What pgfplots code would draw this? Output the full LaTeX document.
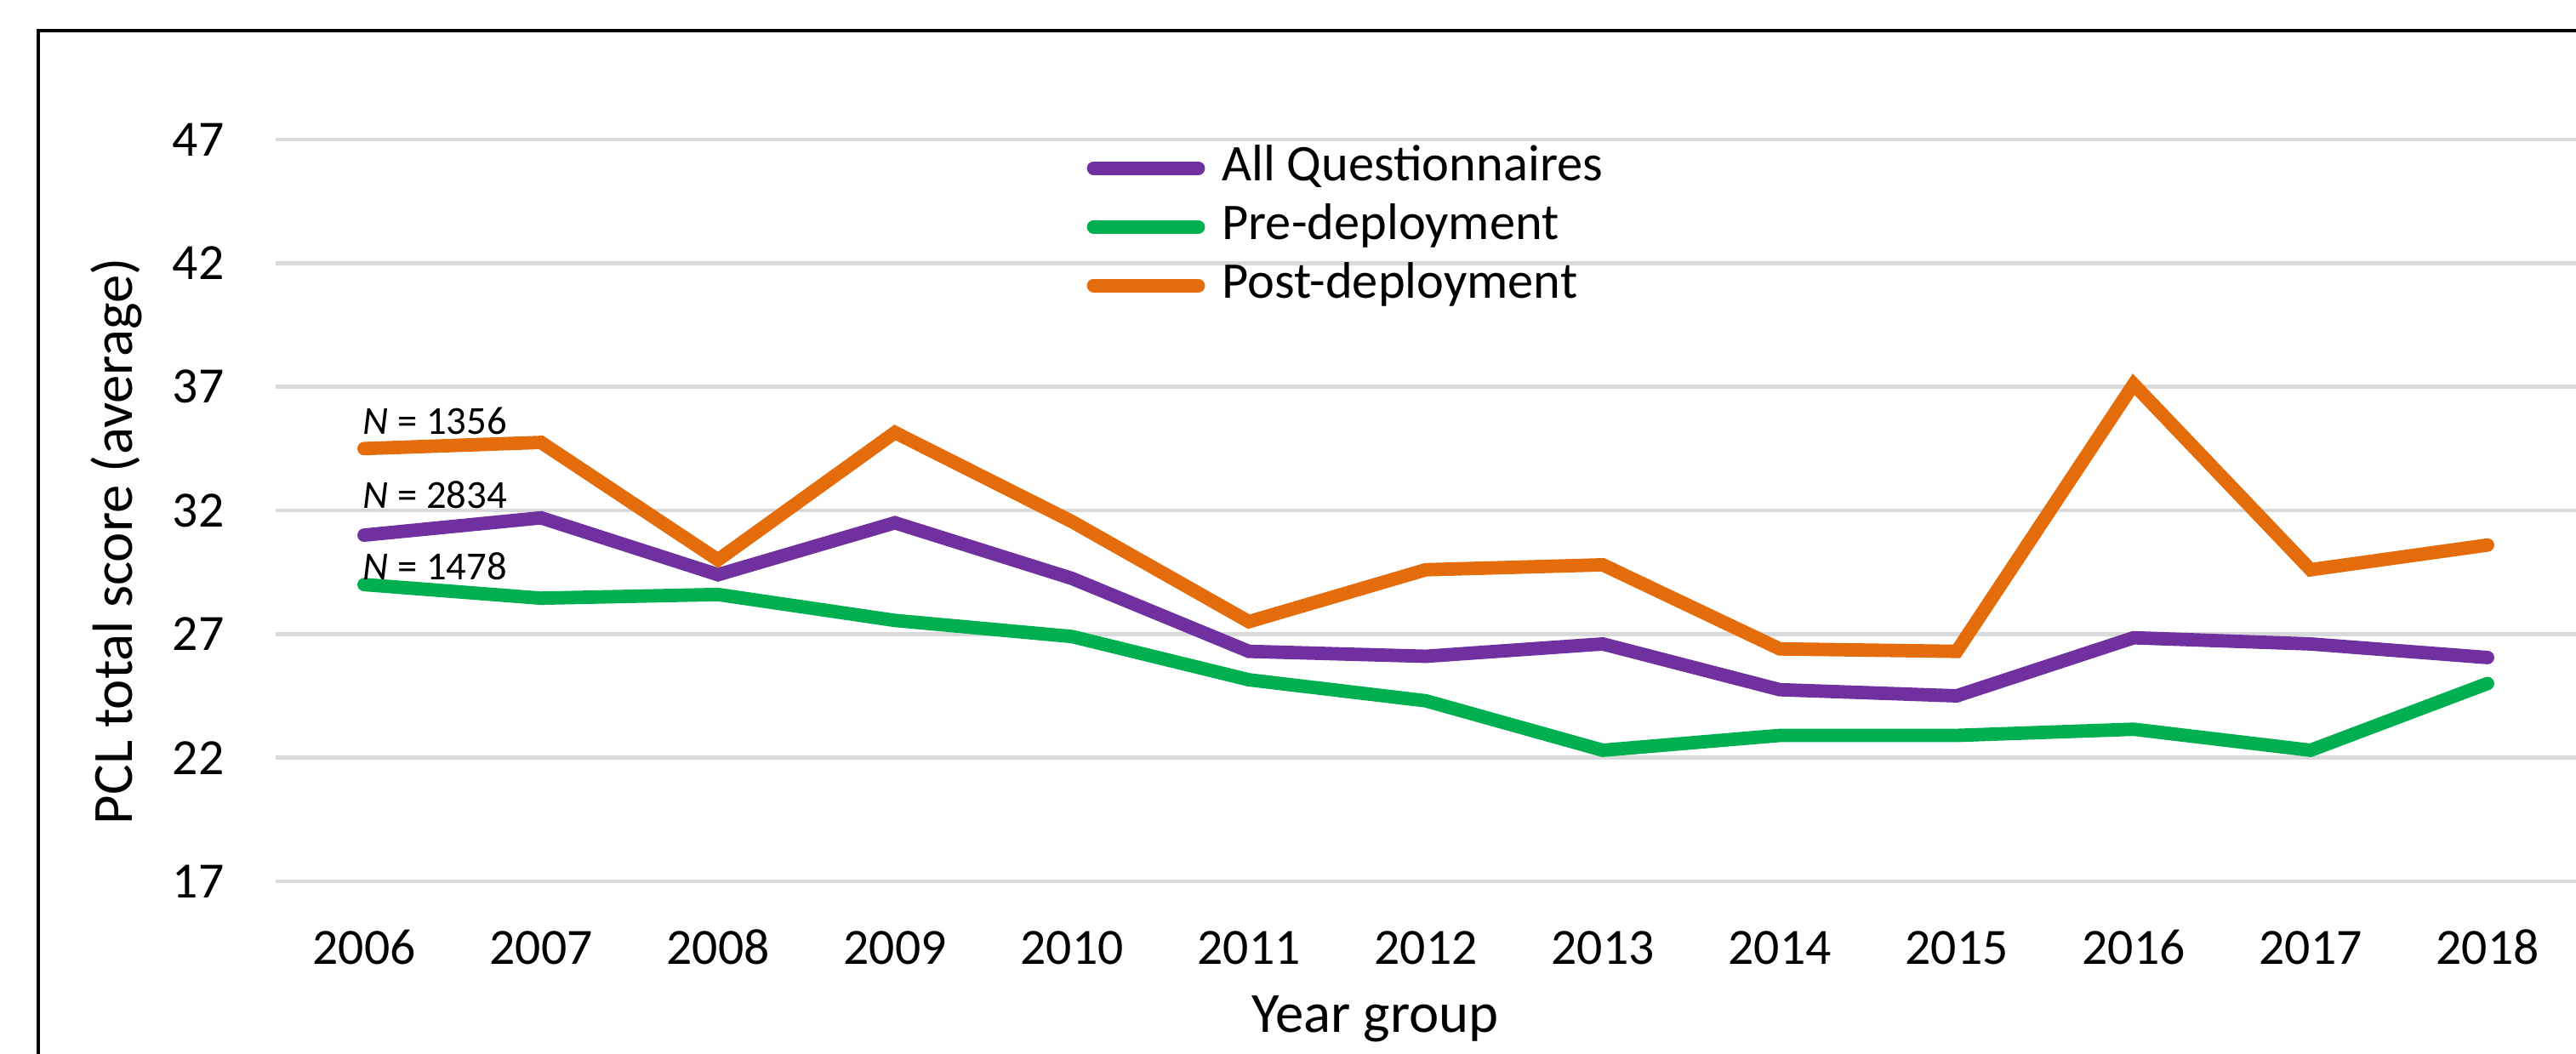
\documentclass[border=0pt]{standalone}
\usepackage{pgfplots}
\pgfplotsset{compat=1.18}
\usepackage{fontspec}
\setmainfont{Carlito}
\definecolor{cAll}{HTML}{7030A0}
\definecolor{cPre}{HTML}{00B050}
\definecolor{cPost}{HTML}{E46C0A}
\definecolor{gridgray}{HTML}{D9D9D9}
\begin{document}
\begin{tikzpicture}
\useasboundingbox (-3.24,-2.02) rectangle (27.04,10.36);
\begin{axis}[
  at={(0,0)}, anchor=south west,
  scale only axis, width=27.04cm, height=8.72cm,
  xmin=-0.5, xmax=12.5, ymin=17, ymax=47,
  xtick={0,...,12},
  xticklabels={2006,2007,2008,2009,2010,2011,2012,2013,2014,2015,2016,2017,2018},
  ytick={17,22,27,32,37,42,47},
  ymajorgrids, grid style={color=gridgray, line width=1.4pt},
  axis line style={draw=none}, tick style={draw=none},
  /pgf/number format/assume math mode=true,
  xticklabel style={font=\fontsize{17}{20}\selectfont, anchor=base, inner sep=0pt, yshift=-0.97cm},
  yticklabel style={font=\fontsize{17}{20}\selectfont, anchor=east, inner sep=0pt, xshift=-0.6cm},
  xlabel={Year group},
  xlabel style={font=\fontsize{19}{22}\selectfont, at={(axis description cs:0.478,-0.203)}, anchor=base, inner sep=0pt},
  ylabel={PCL total score (average)},
  ylabel style={font=\fontsize{19}{22}\selectfont, at={(axis description cs:-0.0692,0.4587)}, anchor=center, inner sep=0pt},
  clip=false,
  legend cell align=left,
  legend image code/.code={\draw[#1, line width=4.5pt, line cap=round] (0cm,0cm) -- (1.23cm,0cm);},
  legend style={at={(axis description cs:0.3524,0.9966)}, anchor=north west, draw=none, fill=none,
    inner sep=0pt, row sep=0.09cm, font=\fontsize{17.2}{20}\selectfont,
    nodes={inner sep=0pt, text height=0.45cm, text depth=0.15cm},
    /tikz/every odd column/.append style={column sep=0.2cm}},
  every axis plot/.append style={line width=4.5pt, line cap=round, line join=miter},
]
\addplot[color=cAll] coordinates {(0,31.0) (1,31.7) (2,29.4) (3,31.5) (4,29.25) (5,26.3) (6,26.1) (7,26.6) (8,24.75) (9,24.5) (10,26.85) (11,26.6) (12,26.05)};
\addlegendentry{All Questionnaires}
\addplot[color=cPre] coordinates {(0,29.0) (1,28.45) (2,28.6) (3,27.55) (4,26.9) (5,25.15) (6,24.3) (7,22.3) (8,22.9) (9,22.9) (10,23.15) (11,22.3) (12,25.0)};
\addlegendentry{Pre-deployment}
\addplot[color=cPost] coordinates {(0,34.5) (1,34.75) (2,30.0) (3,35.15) (4,31.55) (5,27.5) (6,29.6) (7,29.8) (8,26.4) (9,26.3) (10,37.1) (11,29.6) (12,30.6)};
\addlegendentry{Post-deployment}
\node[anchor=base west, inner sep=0pt, font=\fontsize{13.3}{16}\selectfont] at (axis cs:-0.01,35.09) {\textit{N} = 1356};
\node[anchor=base west, inner sep=0pt, font=\fontsize{13.3}{16}\selectfont] at (axis cs:-0.01,32.07) {\textit{N} = 2834};
\node[anchor=base west, inner sep=0pt, font=\fontsize{13.3}{16}\selectfont] at (axis cs:-0.01,29.18) {\textit{N} = 1478};
\end{axis}
\draw[line width=1.3pt] (-2.79,-2.2) -- (-2.79,10.0) -- (27.2,10.0);
\end{tikzpicture}
\end{document}
